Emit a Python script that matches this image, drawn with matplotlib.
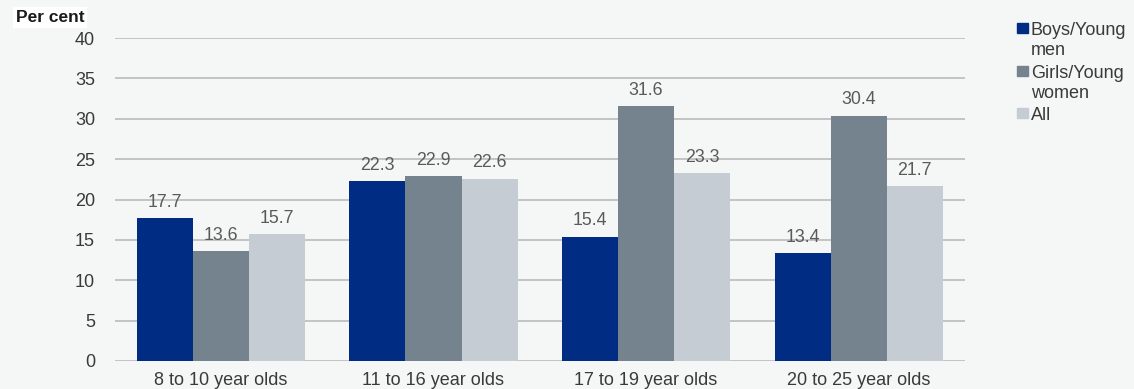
import matplotlib.pyplot as plt
from matplotlib.patches import Rectangle
import numpy as np

plt.rcParams['font.family'] = ['Liberation Sans', 'DejaVu Sans']

# data
groups = ['8 to 10 year olds', '11 to 16 year olds', '17 to 19 year olds', '20 to 25 year olds']
series = ['Boys/Young\nmen', 'Girls/Young\nwomen', 'All']
boys = [17.7, 22.3, 15.4, 13.4]
girls = [13.6, 22.9, 31.6, 30.4]
all_ = [15.7, 22.6, 23.3, 21.7]
colors = ['#002c84', '#75838f', '#c5ccd3']

W, H = 1134, 389
bg = '#f5f6f6'
fig = plt.figure(figsize=(W / 100, H / 100), dpi=100, facecolor=bg)
ax = fig.add_axes([0.101, 0.072, 0.750, 0.830], facecolor=bg)

x = np.arange(len(groups))
w = 0.264
for i, (vals, lab, c) in enumerate(zip([boys, girls, all_], series, colors)):
    bars = ax.bar(x + (i - 1) * w, vals, w, color=c, label=lab, zorder=3)
    for b, v in zip(bars, vals):
        ax.text(b.get_x() + b.get_width() / 2, v + 0.9, f'{v:.1f}',
                ha='center', va='bottom', fontsize=12.8, color='#5a5a5a', zorder=4)

ax.set_xlim(-0.5, 3.5)
ax.set_ylim(0, 40)
ax.set_yticks(range(0, 41, 5))
ax.yaxis.grid(True, color='#bfbfbf', lw=1.3, zorder=0)
ax.tick_params(axis='both', length=0, labelsize=13, colors='#3a3a3a')
ax.tick_params(axis='y', pad=14)
ax.tick_params(axis='x', pad=8)
ax.set_xticks(x)
ax.set_xticklabels(groups)
for s in ax.spines.values():
    s.set_visible(False)

fig.text(0.014, 0.955, 'Per cent', fontsize=12.5, fontweight='bold', color='#1a1a1a',
         ha='left', va='center',
         bbox=dict(facecolor='white', edgecolor='none', pad=2))

# legend: square next to the first line of each label
tops = [28, 71, 113]  # first-line centre, px from top
for lab, c, yc in zip(series, colors, tops):
    fig.patches.append(Rectangle((1017 / W, 1 - (yc + 5) / H), 11 / W, 10 / H,
                                 transform=fig.transFigure, color=c))
    fig.text(1031 / W, 1 - (yc - 6) / H, lab, fontsize=13, color='#3a3a3a',
             ha='left', va='top', linespacing=1.2)

fig.savefig('out.png', dpi=100, facecolor=bg)
